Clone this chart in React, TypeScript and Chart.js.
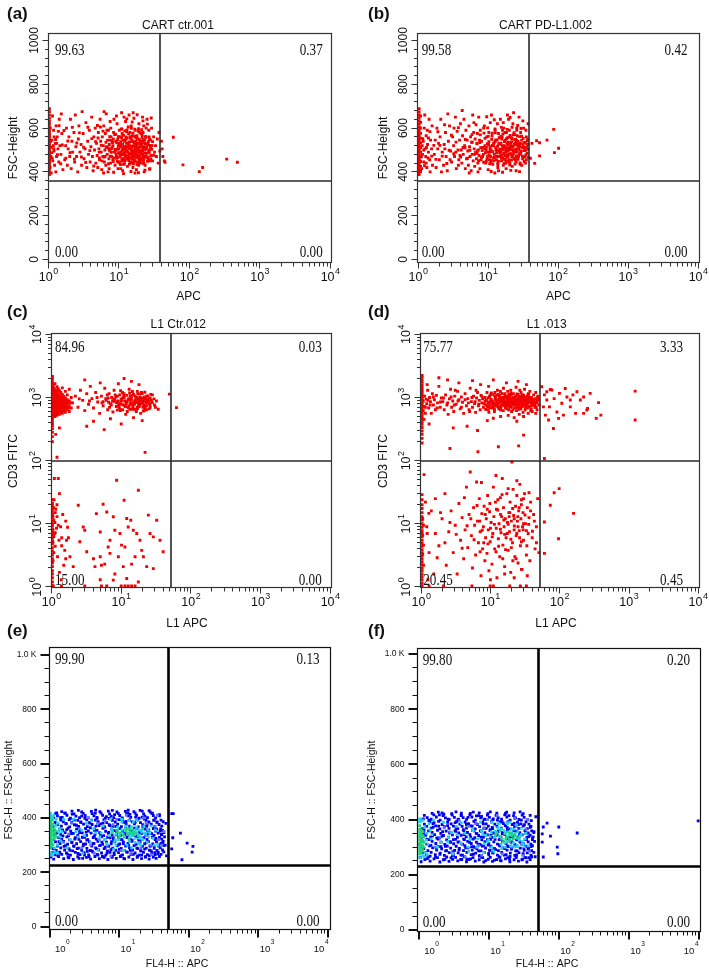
import React, { useEffect, useRef } from "react";
import { Chart, registerables } from "chart.js";
Chart.register(...registerables);

type Pt = [number, number];

// ---------- tick values ----------
const logMajorTicks = [1, 10, 100, 1000, 10000];
const logExponents = ["0", "1", "2", "3", "4"];
const logMinorTicks = [2, 3, 4, 5, 6, 7, 8, 9, 20, 30, 40, 50, 60, 70, 80, 90, 200, 300, 400, 500, 600, 700, 800, 900, 2000, 3000, 4000, 5000, 6000, 7000, 8000, 9000];
const fscMajorTicks = [0, 200, 400, 600, 800, 1000];
const fscMajorLabels = ["0", "200", "400", "600", "800", "1000"];
const fscMinorTicks = [40, 80, 120, 160, 240, 280, 320, 360, 440, 480, 520, 560, 640, 680, 720, 760, 840, 880, 920, 960];
const flowMajorLabels = ["0", "200", "400", "600", "800", "1.0 K"];
const flowMinorTicks = [50, 100, 150, 250, 300, 350, 450, 500, 550, 650, 700, 750, 850, 900, 950];

// ---------- quadrant percentages (UL, UR, LL, LR) ----------
const quadA = ["99.63", "0.37", "0.00", "0.00"];
const quadB = ["99.58", "0.42", "0.00", "0.00"];
const quadC = ["84.96", "0.03", "15.00", "0.00"];
const quadD = ["75.77", "3.33", "20.45", "0.45"];
const quadE = ["99.90", "0.13", "0.00", "0.00"];
const quadF = ["99.80", "0.20", "0.00", "0.00"];

// ---------- events (x = APC, y = FSC / CD3) ----------
const aPoints: Pt[] = [
  [1.03,388],[1.03,398],[1.03,410],[1.03,418],[1.03,425],[1.03,433],[1.03,440],[1.03,447],[1.03,455],[1.03,462],[1.03,470],[1.03,476],[1.03,483],[1.03,490],[1.03,497],[1.03,503],[1.03,510],[1.03,516],[1.03,523],[1.03,530],[1.03,537],[1.03,545],[1.03,552],[1.03,560],[1.03,568],[1.03,575],[1.03,585],[1.03,595],[1.03,606],[1.03,618],[1.03,630],[1.03,645],[1.03,660],[1.03,675],[1.03,688],
  [1.05,420],[1.08,470],[1.1,512],[1.12,545],[1.15,450],[1.18,590],[1.2,495],[1.22,430],[1.25,530],[1.28,610],[1.3,470],[1.33,560],[1.36,505],[1.4,445],[1.42,640],[1.45,520],[1.5,480],[1.55,575],[1.6,410],[1.06,600],[1.09,395],[1.14,655],[1.27,400],[1.38,585],[1.52,665],[1.12,488],[1.2,560],[1.3,530],[1.07,540],[1.17,520],
  [1.7,455],[1.75,520],[1.8,600],[1.85,430],[1.9,505],[1.95,560],[2,470],[2.05,640],[2.1,415],[2.15,540],[2.2,490],[2.3,580],[2.35,445],[2.4,660],[2.45,515],[2.5,470],[2.6,400],[2.65,550],[2.7,610],[2.8,490],[2.9,525],[2.95,430],[3,675],[3.1,575],[3.2,460],[3.3,505],[3.4,625],[3.5,420],[3.6,540],[3.7,480],[3.8,590],[3.9,445],[4,515],[4.1,650],[4.2,470],[4.3,405],[4.4,560],[4.5,500],[4.6,600],[4.7,440],
  [4.8,530],[4.9,475],[5,420],[5.1,580],[5.2,505],[5.3,455],[5.4,640],[5.5,540],[5.6,490],[5.7,410],[5.8,560],[5.9,470],[6,520],[6.1,610],[6.2,445],[6.3,500],[6.4,575],[6.5,430],[6.6,665],[6.7,515],[6.8,480],[6.9,545],[7,400],[7.1,590],[7.2,460],[7.3,525],[7.4,495],[7.5,630],[7.6,440],[7.7,560],[7.8,505],[7.9,470],[5.05,555],[5.45,605],[5.75,450],[6.05,395],[6.35,470],[6.75,590],[7.05,510],[7.45,545],[5.25,490],[6.55,535],[7.25,415],[6.15,675],[7.65,600],
  [8,510],[8.2,455],[8.4,580],[8.6,490],[8.8,430],[9,540],[9.2,470],[9.4,620],[9.6,505],[9.8,445],[10,560],[10.2,485],[10.4,525],[10.6,415],[10.8,595],[11,460],[11.2,500],[11.4,545],[11.6,435],[11.8,650],[12,515],[12.3,475],[12.6,560],[12.9,495],[13.2,425],[13.5,605],[13.8,530],[14.1,465],[14.4,580],[14.7,505],[15,445],[15.3,545],[15.6,490],[15.9,670],[16.2,520],[16.5,455],[16.8,595],[17.1,480],[17.4,540],[17.7,410],[18,565],[18.4,500],[18.8,465],[19.2,620],[19.6,530],[20,445],[20.5,575],[21,495],[21.5,540],[22,470],[22.5,610],[23,515],[23.5,430],[24,560],[24.5,485],[25,640],[25.5,525],[26,455],[26.5,590],[27,500],[27.5,415],[28,545],[28.5,475],[29,600],[29.5,520],[30,450],[31,560],[32,490],
  [9.1,500],[9.5,465],[9.9,530],[10.3,445],[10.7,515],[11.1,575],[11.5,480],[11.9,540],[12.2,450],[12.7,505],[13.1,555],[13.6,470],[14,520],[14.5,440],[15.1,495],[15.5,565],[16,475],[16.6,535],[17,450],[17.6,510],[18.2,475],[18.6,550],[19,430],[19.4,495],[20.2,520],[20.8,460],[21.3,570],[21.8,505],[22.4,440],[23.2,545],[13.3,490],[11.7,460],[10.1,590],[15.8,420],[17.9,530],[12.4,630],[14.9,610],[16.3,645],[19.8,580],[9.7,415],[8.5,640],[10.9,670],[13.9,660],[21.6,650],[24.3,600],[26.8,560],[11.3,405],[16.9,395],[22.8,400],[27.8,450],
  [33,520],[34,470],[35,550],[36,440],[37,580],[38,495],
  [40,540],[41,505],[42,470],[44,450],[45,444],[59,558],[81,432],[138,401],[154,420],[338,458],[479,444]
];
const aCore: Pt[] = [
  [6.2,468],[6.6,512],[7.1,437],[7.4,561],[7.8,489],[8.1,534],[8.3,447],[8.7,571],[8.9,502],[9.3,462],[9.6,548],[9.9,487],[10.3,521],[10.5,433],[10.9,556],[11.2,478],[11.5,509],[11.8,452],[12.1,587],[12.4,492],[12.8,531],[13,458],[13.4,513],[13.7,574],[14,482],[14.3,441],[14.6,553],[15,517],[15.3,471],[15.7,538],[16,497],[16.3,444],[16.7,563],[17,508],[17.3,466],[17.7,527],[18,489],[18.4,551],[18.7,438],[19.1,511],[19.5,474],[19.9,536],[20.3,493],[20.7,456],[21.1,529],[21.6,483],[22.1,547],[22.6,462],[23.1,503],[23.7,529],[24.2,471],[24.8,512],[25.4,448],[26.1,538],[26.8,487],[27.5,521],[28.3,459],[29.1,503],[30,538],[31,476],
  [1.13,462],[1.19,505],[1.26,548],[1.34,478],[1.41,611],[1.49,437],[1.57,523],[1.66,589],[1.76,462],[1.88,541],[2.02,487],[2.18,603],[2.33,458],[2.52,532],[2.74,578],[2.93,468],[3.15,512],[3.38,443],[3.62,604],[3.86,497],[4.12,552],[4.38,427],[4.66,538],[4.95,612],[5.27,463],[5.6,521],[5.93,586],
  [9.2,655],[12.9,642],[15.4,628],[18.1,661],[21.9,633],[25.3,618],[28.7,646],[8.4,398],[11.6,392],[14.8,402],[18.9,396],[23.4,408],[27.2,412],[10.4,478],[13.9,537],[17.4,492],[20.9,514],[24.1,558],[19.2,453],[15.9,466],[12.5,549],[9.8,517],
  [7.2,503],[7.5,472],[7.9,541],[8.2,519],[8.5,463],[8.8,496],[9,572],[9.3,533],[9.5,448],[9.8,561],[10,504],[10.3,469],[10.6,538],[10.8,491],[11.1,451],[11.3,525],[11.6,567],[11.9,488],[12.1,543],[12.4,466],[12.7,516],[12.9,583],[13.2,474],[13.5,529],[13.8,452],[14.1,506],[14.4,561],[14.7,483],[15,538],[15.2,459],[15.5,512],[15.8,577],[16.1,486],[16.4,532],[16.8,449],[17.1,498],[17.4,556],[17.8,471],[18.1,522],[18.5,443],[18.8,585],[19.2,503],[19.6,547],[20,466],[20.4,529],[20.8,481],[21.3,558],[21.8,497],[22.3,452],[22.8,533],[23.3,486],[23.9,561],[24.5,503],[25.1,465],[25.8,529],[26.5,491],[27.2,548],[28,512],
  [10.1,441],[12,437],[14,434],[16,437],[18,433],[20.2,440],[22.5,437],[11,596],[13,592],[15,599],[17,590],[19,597],[21,593],[9.1,482],[11.7,503],[13.4,491],[15.4,472],[17.5,516],[19.5,487],[21.5,514],[23.5,472],[8.3,550],[10.9,561],[14.9,556],[18.3,468],[22,580],[26,468]
];

const bPoints: Pt[] = [
  [1.03,388],[1.03,398],[1.03,409],[1.03,420],[1.03,430],[1.03,441],[1.03,452],[1.03,462],[1.03,473],[1.03,484],[1.03,494],[1.03,505],[1.03,516],[1.03,526],[1.03,537],[1.03,548],[1.03,558],[1.03,569],[1.03,580],[1.03,592],[1.03,605],[1.03,618],[1.03,632],[1.03,646],[1.03,660],[1.03,674],[1.03,688],
  [1.08,402],[1.08,425],[1.08,447],[1.08,468],[1.08,490],[1.08,511],[1.08,533],[1.08,554],[1.08,576],[1.08,600],[1.08,626],[1.08,655],
  [1.12,415],[1.15,480],[1.18,540],[1.2,445],[1.22,600],[1.25,505],[1.28,470],[1.3,565],[1.33,420],[1.36,525],[1.4,490],[1.43,640],[1.46,455],[1.5,545],[1.55,505],[1.6,430],[1.14,520],[1.24,660],[1.35,590],[1.48,400],[1.58,610],[1.2,500],[1.3,440],[1.4,555],
  [1.7,480],[1.75,545],[1.8,420],[1.85,600],[1.9,505],[2,455],[2.05,560],[2.1,640],[2.2,490],[2.3,430],[2.35,525],[2.45,580],[2.5,470],[2.6,405],[2.7,540],[2.8,610],[2.9,495],[3,445],[3.1,560],[3.2,520],[3.3,470],[3.4,650],[3.5,415],[3.6,585],[3.7,500],[3.8,455],[3.9,545],[4,620],[2.15,400],[2.65,665],[3.25,600],[3.75,430],[1.95,530],[2.4,505],[2.85,455],[3.45,490],[3.95,475],
  [4.1,500],[4.2,440],[4.3,565],[4.4,480],[4.5,640],[4.6,520],[4.7,415],[4.8,590],[4.9,460],[5,545],[5.1,495],[5.2,430],[5.3,610],[5.4,515],[5.5,470],[5.6,560],[5.7,405],[5.8,535],[5.9,480],[6,660],[6.1,450],[6.2,580],[6.3,505],[6.4,425],[6.5,550],[6.6,490],[6.7,615],[6.8,460],[6.9,530],[7,575],[7.1,440],[7.2,500],[7.3,650],[7.4,475],[7.5,545],[7.6,415],[7.7,590],[7.8,510],[7.9,455],[4.25,680],[5.35,395],[6.25,625],[7.15,400],[4.65,510],[5.85,570],[6.95,485],
  [8,540],[8.3,470],[8.6,600],[8.9,505],[9.2,440],[9.5,560],[9.8,490],[10.1,525],[10.4,455],[10.7,625],[11,500],[11.3,565],[11.6,435],[11.9,530],[12.2,480],[12.5,590],[12.8,510],[13.1,455],[13.4,545],[13.7,420],[14,575],[14.3,495],[14.6,470],[14.9,640],[15.2,525],[15.5,450],[15.8,560],[16.1,500],[16.4,430],[16.7,600],[17,520],[17.3,475],[17.6,545],[17.9,440],[18.2,580],[18.5,505],[18.8,660],[19.1,470],[19.4,535],[19.7,455],[20,590],[20.5,515],[21,480],[21.5,555],[22,425],[22.5,620],[23,500],[23.5,460],[24,570],[24.5,530],[25,445],[25.5,600],[26,490],[26.5,540],[27,470],[27.5,650],[28,515],[28.5,435],[29,580],[29.5,495],[30,545],[31,460],[32,600],[33,510],[34,440],[35,560],[36,485],[37,620],[36.5,525],[33.5,470],
  [8.5,480],[9,520],[9.6,460],[10.2,580],[10.8,470],[11.4,520],[12,450],[12.6,540],[13.2,500],[13.8,470],[14.4,530],[15,490],[15.6,550],[16.2,465],[16.8,510],[17.4,580],[18,450],[18.6,530],[19.2,495],[19.8,560],[20.4,440],[21.2,520],[22,550],[22.8,480],[23.6,525],[24.4,455],[25.2,505],[26,565],[27,520],[28,480],[8.8,610],[11.1,660],[13.5,620],[16,590],[19.5,640],[23,670],[10,410],[14,405],[18,415],[25,405],[12.4,395],[30,430],[31.5,520],[34.5,590],[9.3,500],[21.7,470],
  [40,462],[42,530],[46,439],[49,542],[54,533],[54,473],[69,545],[86,594],[88,488],[101,508]
];
const bCore: Pt[] = [
  [6.4,480],[6.9,528],[7.3,451],[7.7,569],[8.2,497],[8.6,444],[9,553],[9.4,512],[9.8,471],[10.2,538],[10.6,493],[11,452],[11.4,577],[11.9,519],[12.3,468],[12.8,546],[13.2,487],[13.7,441],[14.1,529],[14.6,503],[15.1,562],[15.6,476],[16.1,518],[16.6,457],[17.2,541],[17.7,498],[18.3,466],[18.9,556],[19.5,509],[20.1,482],[20.8,531],[21.5,454],[22.2,517],[22.9,569],[23.7,491],[24.5,462],[25.3,543],[26.2,505],[27.1,474],[28,526],[29,491],[30,563],[31,512],[32,468],[33,534],[34,498],[35,455],[36,541],[37,503],[37.5,466],
  [1.11,470],[1.16,552],[1.23,428],[1.31,511],[1.38,463],[1.47,584],[1.56,472],[1.67,521],[1.79,457],[1.91,583],[2.04,521],[2.2,472],[2.38,615],[2.56,438],[2.76,499],[2.98,567],[3.22,483],[3.47,536],[3.74,602],[4.04,468],[4.36,511],[4.7,548],[5.07,462],[5.47,499],[5.9,535],
  [9.5,652],[12.2,638],[16.4,625],[20.5,648],[26.3,612],[31.2,633],[11,402],[16,398],[21,407],[28,401],[13.3,488],[17.9,513],[22.6,494],[25.8,527],[10.6,506],[14.9,474],[19.2,528],[24,545],
  [7.1,498],[7.6,534],[8,466],[8.4,511],[8.7,577],[9.1,487],[9.4,449],[9.7,529],[10,562],[10.3,478],[10.6,515],[10.9,444],[11.2,549],[11.6,492],[11.9,463],[12.2,533],[12.6,578],[12.9,502],[13.3,471],[13.6,517],[14,449],[14.3,556],[14.7,488],[15.1,531],[15.4,462],[15.8,506],[16.2,573],[16.6,484],[17,538],[17.4,457],[17.8,512],[18.2,552],[18.7,477],[19.1,525],[19.6,446],[20.1,501],[20.6,566],[21.1,483],[21.6,537],[22.2,469],[22.7,514],[23.3,579],[23.9,492],[24.5,548],[25.2,473],[25.9,521],[26.6,457],[27.4,503],[28.2,561],[29,485],[29.8,529],[30.7,472],[31.6,553],[32.5,497],[33.5,531],[34.5,478],[35.5,512],[36.5,548],
  [9.8,601],[12.5,596],[15.4,603],[18.6,594],[21.9,604],[25.6,590],[29.4,598],[10.5,437],[13.7,433],[16.9,438],[20.3,431],[24.1,436],[28.5,441],[32.6,447],[11.5,521],[14.6,498],[17.9,489],[21.4,503],[24.8,498],[27.8,531],[31.1,512]
];

const cPoints: Pt[] = [
  [1.03,200],[1.03,240],[1.03,280],[1.03,320],[1.03,360],[1.03,400],[1.03,440],[1.03,480],[1.03,520],[1.03,560],[1.03,600],[1.03,640],[1.03,680],[1.03,720],[1.03,760],[1.03,800],[1.03,850],[1.03,900],[1.03,950],[1.03,1000],[1.03,1060],[1.03,1120],[1.03,1190],[1.03,1260],[1.03,1340],[1.03,1420],[1.03,1520],[1.03,1640],[1.03,1780],[1.03,1950],[1.03,2150],
  [1.06,530],[1.06,660],[1.06,790],[1.06,930],[1.06,1090],[1.06,1280],[1.06,1500],[1.09,590],[1.09,720],[1.09,850],[1.09,1000],[1.09,1180],[1.09,1390],[1.12,500],[1.12,620],[1.12,750],[1.12,880],[1.12,1030],[1.12,1220],[1.12,1650],[1.16,560],[1.16,690],[1.16,820],[1.16,960],[1.16,1120],[1.16,1320],[1.2,520],[1.2,640],[1.2,760],[1.2,900],[1.2,1050],[1.2,1240],[1.2,1480],[1.25,580],[1.25,710],[1.25,840],[1.25,980],[1.25,1150],[1.25,1380],[1.3,540],[1.3,660],[1.3,790],[1.3,920],[1.3,1080],[1.3,1280],[1.36,600],[1.36,730],[1.36,860],[1.36,1010],[1.36,1200],[1.43,560],[1.43,680],[1.43,810],[1.43,950],[1.43,1120],[1.43,1420],[1.5,620],[1.5,750],[1.5,880],[1.5,1040],[1.58,580],[1.58,700],[1.58,830],[1.58,980],[1.58,1250],[1.68,640],[1.68,780],[1.68,920],[1.68,1100],[1.8,600],[1.8,740],[1.8,880],[1.8,1350],[1.92,680],[1.92,820],[1.92,1000],
  [2,820],[2.2,1050],[2.4,700],[2.6,1300],[2.8,900],[3,620],[3.2,1150],[3.4,780],[3.6,1500],[3.8,960],[4,680],[4.3,1200],[4.6,850],[4.9,560],[5.2,1050],[5.5,740],[5.8,1400],[6.1,900],[6.4,640],[6.7,1150],[7,800],[7.3,1000],[7.6,590],[7.9,1300],[8.2,870],[8.5,720],[8.8,1050],[9.1,1650],[9.4,800],[9.7,620],[10,950],[10.4,1200],[10.8,760],[11.2,880],[11.6,540],[12,1080],[12.5,700],[13,1350],[13.5,820],[14,980],[14.5,650],[15,1120],[15.5,780],[16,900],[16.5,600],[17,1250],[17.5,840],[18,720],[18.5,1000],[19,560],[19.5,880],[20,1150],[21,760],[22,940],[23,640],[24,1050],[25,800],[26,700],[27,900],[28,1100],[30,760],[32,880],[34,650],
  [8,950],[9,880],[10,780],[11,1000],[12,860],[13,740],[14,900],[15,820],[16,1020],[17,700],[18,920],[19,800],[20,980],[21,880],[22,720],[23,860],[24,940],[9.5,1100],[11.5,720],[13.5,1050],[15.5,660],[17.5,960],[19.5,1200],[21.5,620],[10.5,640],[12.5,920],[14.5,1240],[16.5,840],[18.5,760],[20.5,700],[22.5,1020],[7.5,880],[6.5,980],[5.5,860],[4.5,1000],[3.5,880],[2.5,950],
  [3,1900],[5,1700],[11,2000],[14,1800],[18,1600],[4,420],[7,460],[15,480],[20,430],[10,380],[3.2,350],[5.7,310],[22,135],[1.2,113],[1.15,260],[1.3,330],[49,1130],[62,690],
  [1.03,1.05],[1.03,1.2],[1.03,1.4],[1.03,1.6],[1.03,1.8],[1.03,2.1],[1.03,2.4],[1.03,2.8],[1.03,3.2],[1.03,3.7],[1.03,4.2],[1.03,4.8],[1.03,5.4],[1.03,6],[1.03,6.7],[1.03,7.5],[1.03,8.3],[1.03,9.2],[1.03,10],[1.03,11],[1.03,12.5],[1.03,14],[1.03,15.5],[1.03,17],[1.03,19],[1.03,21],[1.03,24],
  [1.1,52],[1.25,52],[1.3,30],[1.15,17],[1.2,13],[1.35,9],[1.1,7],[1.4,4.5],[1.22,3],[1.5,2.2],[1.3,1.7],[1.6,11],[1.75,6],[1.12,10.5],[1.18,8.5],[1.28,5.5],[1.45,14],[1.09,24],[1.55,3.8],[1.38,1.3],[1.2,20],[1.7,8.8],
  [2.42,19.7],[3,7.9],[4.4,14.5],[5,7.4],[5.5,20.4],[6.2,15.4],[6.9,5.5],[4,2.8],[5,3],[5.2,2.2],[6.5,4.3],[8.6,49],[8.1,7.9],[9.6,7],[11,23.6],[12,12.1],[12.6,8.9],[11.3,4.3],[13.7,11.4],[14.9,7.9],[16.7,7],[17.6,34],[18.6,5.5],[19.7,3.8],[20.8,3],[24.5,13.7],[25.9,7],[28.9,6.2],[32.3,11.4],[36,5.5],[40,3.6],[23.2,2.1],[28.9,1.95],[15.8,3],[14.1,2.3],[10.7,2.1],[8.1,1.6],[6.9,3.4],[5.8,2.3],[4.2,2.1],[3.2,3.6],[2.55,5.2],[1.64,5.5],[1.84,3],[2.05,2.1],[5,1.3],[7.7,1.28],[12,1.36],[17.6,1.2],[9.1,3],[10.1,4.6],[7.7,12.9],[2.85,8.9],
  [1.06,1.04],[1.39,1.04],[3,1.04],[5.2,1.04],[6.2,1.04],[10,1.04],[11.3,1.04],[12.6,1.04],[14.1,1.04],[15.8,1.04]
];
const cCore: Pt[] = [
  [5.3,820],[6,960],[6.8,700],[7.7,880],[8.4,1020],[9.2,760],[10.1,900],[10.9,1110],[11.8,800],[12.7,690],[13.6,920],[14.6,770],[15.7,1060],[16.7,850],[17.9,720],[19.1,950],[20.3,830],[21.6,1010],[23,740],[24.5,870],[26,980],[27.8,830],[29.5,950],[31,700],[6.3,1100],[9.8,1280],[13.2,1180],[17.3,1150],[21.8,1210],[26.5,1120],[8.8,630],[12.2,600],[16.1,640],[20.7,610],[25.3,660],
  [1.05,580],[1.05,720],[1.05,860],[1.05,1010],[1.05,1180],[1.05,1380],[1.08,650],[1.08,780],[1.08,920],[1.08,1100],[1.14,560],[1.14,690],[1.14,830],[1.14,990],[1.14,1160],[1.18,620],[1.18,750],[1.18,890],[1.18,1050],[1.22,580],[1.22,700],[1.22,830],[1.22,970],[1.22,1140],[1.28,610],[1.28,740],[1.28,880],[1.28,1040],[1.33,670],[1.33,800],[1.33,950],[1.4,620],[1.4,740],[1.4,870],[1.4,1020],[1.47,690],[1.47,820],[1.47,970],[1.55,650],[1.55,780],[1.55,910],[1.65,710],[1.65,850],[1.75,680],[1.75,820],
  [1.05,2.6],[1.05,5.1],[1.05,8],[1.05,13.2],[1.08,3.5],[1.08,6.3],[1.08,11.5],[1.08,18],[1.13,4.4],[1.13,7.2],[1.13,15],[1.25,9.5],[1.4,6],[1.6,2.8],
  [6.6,840],[7.2,760],[7.9,930],[8.6,820],[9.3,700],[9.9,870],[10.6,990],[11.3,740],[12.1,850],[12.9,960],[13.8,790],[14.7,700],[15.6,880],[16.6,1000],[17.7,780],[18.8,870],[20,940],[21.3,720],[22.7,820],[24.2,910],[25.8,760],[27.4,850],[8.2,1100],[11,1150],[14.2,1080],[18.3,1130],[23.5,1060],[9.6,660],[13.3,650],[17.1,670],[21.9,660],
  [1.04,560],[1.04,690],[1.04,830],[1.04,980],[1.04,1150],[1.04,1340],[1.07,610],[1.07,740],[1.07,880],[1.07,1040],[1.07,1230],[1.11,540],[1.11,670],[1.11,800],[1.11,940],[1.11,1100],[1.11,1300],[1.15,600],[1.15,720],[1.15,860],[1.15,1010],[1.19,560],[1.19,680],[1.19,800],[1.19,950],[1.19,1120],[1.24,630],[1.24,760],[1.24,900],[1.24,1060],[1.29,580],[1.29,700],[1.29,840],[1.29,990],[1.35,650],[1.35,780],[1.35,930],[1.42,600],[1.42,720],[1.42,850],[1.42,1000],[1.5,680],[1.5,800],[1.5,940]
];

const dPoints: Pt[] = [
  [1.03,190],[1.03,225],[1.03,260],[1.03,295],[1.03,335],[1.03,375],[1.03,415],[1.03,455],[1.03,495],[1.03,540],[1.03,585],[1.03,630],[1.03,680],[1.03,730],[1.03,785],[1.03,840],[1.03,900],[1.03,960],[1.03,1030],[1.03,1100],[1.03,1180],[1.03,1270],[1.03,1370],[1.03,1480],[1.03,1600],[1.03,1750],[1.03,1920],[1.03,2100],[1.03,2240],
  [1.07,620],[1.07,880],[1.1,720],[1.12,1050],[1.15,560],[1.18,940],[1.2,800],[1.24,1300],[1.28,680],[1.32,1000],[1.36,860],[1.4,560],[1.45,1150],[1.5,760],[1.55,920],[1.6,640],[1.66,1080],[1.72,820],[1.8,1500],[1.88,700],[1.95,980],[1.1,450],[1.3,380],[1.22,1600],[1.8,2050],
  [2.05,860],[2.15,640],[2.25,1100],[2.35,760],[2.45,540],[2.55,950],[2.65,1350],[2.75,700],[2.85,880],[2.95,600],[3.05,1050],[3.2,780],[3.35,1250],[3.5,920],[3.65,660],[3.8,1020],[3.95,840],[4.1,560],[4.3,1150],[4.5,740],[4.7,960],[4.9,640],[5.1,1400],[5.3,860],[5.5,700],[5.7,1050],[5.9,800],[6.1,580],[6.3,980],[6.5,1200],[6.7,740],[6.9,900],[7.1,640],[7.3,1080],[7.5,820],[7.7,950],[7.9,700],[2.9,330],[4.6,350],[6.5,300],[3.5,1700],[5.5,1850],[2.4,1900],[7.2,1600],[2.6,156],[6.6,138],[13,166],[25.5,171],[30,253],
  [8.1,800],[8.3,1000],[8.5,650],[8.7,900],[8.9,1200],[9.1,720],[9.3,850],[9.5,580],[9.7,1050],[9.9,760],[10.2,940],[10.5,680],[10.8,1120],[11.1,820],[11.4,600],[11.7,980],[12,730],[12.3,880],[12.6,1300],[12.9,780],[13.2,660],[13.5,1020],[13.8,850],[14.1,720],[14.4,940],[14.7,1150],[15,800],[15.3,620],[15.6,900],[15.9,760],[16.2,1050],[16.5,690],[16.8,860],[17.1,980],[17.4,740],[17.7,1250],[18,820],[18.3,640],[18.6,920],[18.9,780],[19.2,1080],[19.5,700],[19.8,880],[20.2,600],[20.6,960],[21,760],[21.4,1150],[21.8,840],[22.2,680],[22.6,1000],[23,790],[23.4,900],[23.8,620],[24.2,1100],[24.6,820],[25,720],[25.5,950],[26,780],[26.5,1300],[27,860],[27.5,660],[28,1000],[28.5,760],[29,900],[29.5,580],[30,1080],[31,820],[32,700],[33,960],[34,800],[35,1150],[36,720],[37,880],[38,620],[39,1000],[40,780],[42,920],[44,700],[46,850],[48,1050],[50,760],
  [10,860],[11,760],[12,940],[13,820],[14,700],[15,1000],[16,860],[17,780],[18,960],[19,840],[20,720],[21,920],[22,800],[23,1040],[24,880],[25,760],[26,920],[27,700],[28,840],[29,1000],[30,740],[32,900],[34,680],[36,980],[38,840],[10.6,800],[12.4,1080],[14.2,880],[16,740],[18.4,1120],[20.4,840],[22.4,920],[24.4,700],[26.4,840],[28.4,940],[31,1000],[33,860],[35,940],[13.6,960],[17.6,900],[21.6,1000],[25.6,1040],[30,900],[11.6,1200],[19.6,1300],[27.6,1200],[15.4,1400],[23.4,1450],[9.4,1500],[31,1350],[37,1250],[42,1100],[45,1200],[14,500],[18,520],[22,480],[26,540],[30,500],[35,560],[40,600],[47,640],[11,470],[9,430],[24,420],[17,1700],[11,1900],[25,1800],[33,1600],[45,560],[49,900],
  [55,1480],[60,1100],[65,910],[71,710],[77,1310],[83,960],[91,590],[99,1160],[107,810],[120,1390],[127,1020],[142,910],[155,1100],[177,1230],[198,910],[221,1020],[252,670],[275,1160],[363,830],[392,525],[246,630],[113,525],[81,323],[336,467],[1225,1260],[1225,440],[73,1340],[62,525],[69,440],[96,467],[58,710],[65,1230],[142,710],[169,560],[221,560],[60,108],
  [1.03,1.05],[1.03,1.15],[1.03,1.3],[1.03,1.45],[1.03,1.6],[1.03,1.8],[1.03,2],[1.03,2.25],[1.03,2.5],[1.03,2.8],[1.03,3.1],[1.03,3.5],[1.03,3.9],[1.03,4.4],[1.03,4.9],[1.03,5.5],[1.03,6.2],[1.03,7],[1.03,7.8],[1.03,8.8],[1.03,10],[1.03,11.5],[1.03,13],[1.03,15],[1.03,17.5],[1.03,20],[1.03,24],[1.03,29],
  [1.1,60],[1.15,22],[1.2,9],[1.3,3.5],[1.29,14.6],[1.22,7],[1.52,1.6],[1.6,7],[1.4,16],[1.25,1.3],
  [1.6,25],[1.8,4.5],[2,12],[2.2,30],[2.3,2.2],[2.5,7.5],[2.7,16],[2.9,3.5],[3.1,9.5],[3.3,1.6],[3.5,21],[3.7,5.5],[3.9,12.5],[4.1,2.8],[4.3,8],[4.5,38],[4.7,4.2],[4.9,14],[5.1,66],[5.3,6.5],[5.5,2],[5.7,18],[5.9,9.5],[6.1,3.2],[6.3,46],[6.5,11],[6.7,5],[6.9,25],[7.1,7.5],[7.3,1.5],[7.5,14.5],[7.7,4],[7.9,9],[8.1,19],[8.3,2.6],[8.5,6],[8.7,12],[8.9,3.4],[9.1,28],[9.3,8],[9.5,1.8],[9.7,15.5],[9.9,5.2],[10.2,10.5],[10.5,2.3],[10.8,7],[11,38],[11.2,13],[11.5,4],[11.8,22],[12.1,8.5],[12.4,1.4],[12.7,16.5],[13,5.8],[13.3,10],[13.6,3],[13.9,26],[14.2,7.2],[14.5,13],[14.8,52],[15.1,4.6],[15.4,18],[15.7,9],[16,2.1],[16.4,12],[16.8,6],[17.2,30],[17.6,10.5],[18,3.8],[18.4,15],[18.8,7.5],[19.2,22],[19.6,1.7],[20,11],[20.4,95],[20.8,5],[21.2,35],[21.6,13.5],[22,8],[22.5,3],[23,19],[23.5,6.5],[24,28],[24.5,11],[25,2.4],[25.5,16],[26,7.8],[26.5,42],[27,4.5],[27.5,12],[28,24],[28.5,1.9],[29,9],[29.5,15],[30,5.5],[31,30],[32,10],[33,3.2],[34,18],[35,7],[36,12.5],[37,2.6],[38,22],[40,6],[42,14],[44,4],[46,9],[48,25],[50,3.5],
  [1.3,1.04],[2.1,1.04],[5.4,1.04],[9.9,1.04],[11,1.04],[27,1.04],[33,1.04],[19,1.04],
  [73,19.7],[83,31],[98,36],[158,14.6],[96,5.8],[60,10.7],[60,3.4]
];
const dCore: Pt[] = [
  [8.6,760],[9.2,980],[9.9,690],[10.7,870],[11.5,1060],[12.3,790],[13.2,930],[14.1,670],[15.1,860],[16.2,1010],[17.3,750],[18.5,890],[19.8,1170],[21.2,780],[22.7,950],[24.3,690],[26,860],[27.8,1040],[29.7,760],[31.8,920],[34,820],[36.4,1000],[38.9,740],[41.6,880],[44.5,960],[47,820],[9.5,830],[11.9,900],[14.6,960],[17.8,830],[21.8,870],[26.7,790],[32.6,860],[39.9,820],[12.8,710],[16.6,690],[20.9,940],[25.1,1120],[29.2,850],[35.2,700],[43,760],[10.3,1180],[13.9,1240],[18.9,1010],[23.8,830],[28.6,910],[33.7,1060],[15.4,780],[19.4,760],[24.7,920],[30.6,980],[37.8,900],[45.8,700],[48.5,980],
  [1.15,700],[1.25,900],[1.35,760],[1.5,1020],[1.7,680],[1.9,850],[2.1,980],[2.4,820],[2.7,1020],[3,760],[3.4,880],[3.8,700],[4.3,920],[4.8,820],[5.4,1000],[6,860],[6.8,780],[7.5,1040],[3.1,1300],[5,600],[6.2,1300],
  [8,5],[10,8.5],[12,3.6],[14,14],[16,6.8],[18,9.8],[20,4.2],[22,12],[24,7],[26,18],[28,5.2],[30,10],[33,7.8],[12.8,24],[19,15],[25,9],[7,11],[9,17],[15,2.8],[21,2.6],[1.05,3.3],[1.05,6.6],[1.05,12],[1.08,2.2],[1.08,9.5],[1.08,4.6],
  [3.2,6.8],[3.9,4.1],[4.6,9.3],[5.2,12],[5.8,5.6],[6.4,19.5],[7.1,3.6],[7.6,7.9],[8.4,14],[9.2,4.8],[9.8,21],[10.6,6.2],[11.4,9.8],[12.2,17],[13.1,4.4],[13.9,8.2],[14.7,29],[15.6,11.5],[16.5,3.9],[17.5,7],[18.6,13],[19.7,5.7],[20.9,17.5],[22.1,9.2],[23.4,2.8],[24.8,13],[26.3,6],[27.9,20],[29.6,8],[31.5,13.8],[33.5,4.5],[35.6,9.8],[37.9,16],[40.3,7.6],[43,11],[46,5],[2.6,10.5],[2.2,5],[1.9,15],[1.7,2.9],[4.2,26],[7.4,45],[12,58],[18,36],[24,48],[30,25],[36,31],[10,1.3],[16,1.6],[22,1.4],[28,1.9],[34,1.5],
  [8.4,870],[9,760],[9.6,1010],[10.3,890],[11,700],[11.8,960],[12.6,830],[13.5,1090],[14.4,760],[15.4,920],[16.5,820],[17.6,1050],[18.8,720],[20.1,880],[21.5,990],[23,760],[24.6,900],[26.3,820],[28.1,1060],[30,780],[32.1,930],[34.3,850],[36.7,1010],[39.2,760],[41.9,900],[44.8,830],[47.9,960],
  [9.3,640],[11.4,650],[14,630],[17.2,660],[21.1,640],[25.8,650],[31.6,640],[38.7,660],[10,1100],[12.9,1120],[16.1,1150],[19.9,1090],[24.1,1140],[29.1,1110],[35.5,1120],
  [12,800],[15,860],[18,790],[21,830],[24,800],[27,900],[30,860],[33,760],[36,830],[40,940],[44,760],[13.5,930],[16.5,980],[19.5,930],[22.5,880],[25.5,980],[28.5,720],[31.5,880],[34.5,950],[37.5,870],[42.5,830],[46.5,900]
];

const eBlue: Pt[] = [
  [1.15,248],[1.6,250],[2.2,247],[3,251],[3.9,248],[5.2,250],[6.9,247],[9.1,251],[12,249],[15.8,247],[21,250],[27,248],[34,251],
  [1.05,256],[1.35,258],[1.85,255],[2.55,257],[3.4,255],[4.5,258],[6,256],[7.9,255],[10.5,258],[13.8,256],[18.2,255],[24,257],[31,256],[38,258],
  [1.2,264],[1.5,266],[2,263],[2.75,265],[3.65,264],[4.85,266],[6.45,263],[8.5,265],[11.2,264],[14.8,266],[19.5,263],[25.5,265],[33,264],[40,266],
  [1.1,272],[1.4,274],[1.75,271],[2.35,273],[3.15,272],[4.2,274],[5.6,271],[7.4,273],[9.8,272],[12.9,274],[17,271],[22.4,273],[29.5,272],[36.5,274],
  [1.25,280],[1.65,282],[2.15,279],[2.9,281],[3.85,280],[5.1,282],[6.8,279],[9,281],[11.9,280],[15.7,282],[20.7,279],[27.3,281],[35,280],[42,282],
  [1.12,288],[1.45,290],[1.9,287],[2.6,289],[3.45,288],[4.6,290],[6.1,287],[8.1,289],[10.7,288],[14.1,290],[18.6,287],[24.5,289],[32,288],[39,290],
  [1.3,296],[1.7,298],[2.25,295],[3.05,297],[4.05,296],[5.35,298],[7.1,295],[9.4,297],[12.4,296],[16.4,298],[21.6,295],[28.5,297],[37,296],[44,298],
  [1.08,304],[1.42,306],[1.82,303],[2.45,305],[3.3,304],[4.35,306],[5.8,303],[7.7,305],[10.2,304],[13.4,306],[17.7,303],[23.3,305],[30.5,304],[40,306],
  [1.22,312],[1.6,314],[2.1,311],[2.8,313],[3.75,312],[4.95,314],[6.6,311],[8.7,313],[11.5,312],[15.2,314],[20,311],[26.4,313],[34.5,312],[43,314],
  [1.15,320],[1.5,322],[1.95,319],[2.65,321],[3.55,320],[4.7,322],[6.25,319],[8.3,321],[11,320],[14.5,322],[19.1,319],[25.2,321],[33,320],[41,322],
  [1.35,328],[1.78,330],[2.35,327],[3.2,329],[4.25,328],[5.6,330],[7.45,327],[9.85,329],[13,328],[17.2,330],[22.7,327],[30,329],[38,328],[45,330],
  [1.1,336],[1.45,338],[1.88,335],[2.55,337],[3.4,336],[4.5,338],[6,335],[7.95,337],[10.5,336],[13.9,338],[18.3,335],[24.2,337],[31.8,336],[41,338],
  [1.28,344],[1.68,346],[2.2,343],[2.95,345],[3.95,344],[5.25,346],[7,343],[9.25,345],[12.2,344],[16.1,346],[21.3,343],[28,345],[36.5,344],[44,346],
  [1.18,352],[1.55,354],[2.02,351],[2.72,353],[3.62,352],[4.8,354],[6.4,351],[8.45,353],[11.2,352],[14.7,354],[19.4,351],[25.7,353],[33.5,352],[42,354],
  [1.4,360],[1.85,362],[2.45,359],[3.3,361],[4.4,360],[5.85,362],[7.75,359],[10.3,361],[13.6,360],[17.9,362],[23.6,359],[31,361],[39.5,360],
  [1.12,368],[1.48,370],[1.95,367],[2.62,369],[3.5,368],[4.65,370],[6.15,367],[8.15,369],[10.8,368],[14.2,370],[18.8,367],[24.8,369],[32.5,368],[41,370],
  [1.32,376],[1.72,378],[2.28,375],[3.08,377],[4.1,376],[5.45,378],[7.2,375],[9.55,377],[12.6,376],[16.6,378],[21.9,375],[29,377],[37.5,376],
  [1.2,384],[1.58,386],[2.08,383],[2.82,385],[3.78,384],[5,386],[6.65,383],[8.8,385],[11.7,384],[15.4,386],[20.3,383],[26.8,385],[35,384],[43,386],
  [1.45,392],[1.92,394],[2.55,391],[3.42,393],[4.55,392],[6.05,394],[8,391],[10.6,393],[14,392],[18.5,394],[24.4,391],[32,393],[40,392],
  [1.15,400],[1.52,402],[2,399],[2.7,401],[3.6,400],[4.8,402],[6.35,399],[8.4,401],[11.1,400],[14.7,402],[19.4,399],[25.6,401],[33.5,400],
  [1.3,408],[1.78,410],[2.4,407],[3.25,409],[4.35,408],[5.8,410],[7.7,407],[10.2,409],[13.5,408],[17.8,410],[23.5,407],[31,409],[38,408],
  [1.22,416],[1.65,418],[2.25,415],[3.05,417],[4.1,416],[5.5,418],[7.3,415],[9.7,417],[12.8,416],[17,418],[22.5,415],[29.5,417],
  [1.5,423],[2.1,425],[2.9,422],[4,424],[5.3,423],[7,425],[9.3,422],[12.3,424],[16.3,423],[21.5,425],[28,422],
  [2.6,428],[4.6,429],[8,428],[13.5,429],[20,428],[27,427],
  [46,300],[47,380],[48,260],[57,416],[60,416],[76,344],[59,327],[95,307],[115,295],[80,246],[57,286],[112,274]
];
const eBlue2: Pt[] = [
  [1.17,338],[1.31,262],[1.44,401],[1.62,295],[1.77,357],[1.96,281],[2.12,414],[2.31,322],[2.57,269],[2.81,384],[3.07,303],[3.36,348],[3.71,257],[4.02,392],[4.4,331],[4.73,286],[5.14,372],[5.66,311],[6.12,255],[6.58,405],[7.09,347],[7.63,283],[8.31,326],[8.96,369],[9.68,301],[10.4,258],[11.3,389],[12.2,337],[13.1,274],[14.3,413],[15.4,318],[16.7,362],[18,289],[19.6,345],[21.1,263],[22.9,396],[24.7,308],[26.6,356],[28.9,279],[31.4,391],[33.8,325],[36.2,268],[38.9,352],[42.3,309],
  [1.24,381],[1.37,313],[1.53,356],[1.69,418],[1.83,266],[2.05,342],[2.22,297],[2.44,373],[2.66,251],[2.97,329],[3.22,399],[3.5,277],[3.86,364],[4.19,306],[4.55,418],[4.95,263],[5.38,339],[5.88,381],[6.33,292],[6.85,329],[7.38,372],[7.95,258],[8.62,412],[9.3,352],[10.1,284],[10.9,320],[11.7,251],[12.6,387],[13.7,299],[14.8,356],[16,266],[17.3,403],[18.8,332],[20.4,279],[22,367],[23.8,256],[25.7,341],[27.7,296],[30.1,418],[32.6,272],[35,385],[37.4,301],[40.6,339],[43.8,275],
  [1.06,349],[1.15,286],[1.27,419],[1.41,271],[1.56,334],[1.74,379],[1.9,253],[2.09,309],[2.27,392],[2.5,287],[2.72,346],[2.9,407],[3.18,263],[3.44,318],[3.79,381],[4.1,279],[4.47,353],[4.83,399],[5.25,298],[5.75,258],[6.22,366],[6.71,271],[7.2,398],[7.79,313],[8.47,271],[9.12,338],[9.87,394],[10.7,261],[11.5,306],[12.4,362],[13.4,419],[14.5,281],[15.7,341],[17,384],[18.4,259],[20,318],[21.5,403],[23.3,285],[25.2,374],[27.1,261],[29.4,342],[31.9,297],[34.6,359],[37.9,412]
];
const eMid: Pt[] = [
  [1.6,310],[2.1,380],[2.9,290],[3.6,400],[4.4,270],[5.2,320],[6.3,390],[7.6,260],[9.2,395],[10.8,280],[12.7,410],[15,270],[17.6,395],[20.6,290],[24.5,380],[28.5,300],[33,370],[37,320],[1.9,340],[2.7,360],[3.9,300],[4.9,380],[6.8,300],[8.2,375],[19.5,310],[22.5,400],[30,265],[35.5,410],[41,300],[44,350]
];
const eCyan: Pt[] = [
  [1.03,262],[1.03,270],[1.03,410],[1.03,418],[1.08,268],[1.1,405],[1.2,275],[1.25,395],[1.3,300],[1.35,350],[1.4,330],[1.3,380],[1.18,290],[1.22,370],[1.45,315],[1.15,410],
  [7.2,335],[8,350],[8.8,320],[9.5,365],[10.2,340],[11,355],[11.8,330],[12.5,370],[13.3,345],[14,315],[14.8,360],[15.5,335],[16.3,350],[17,325],[17.8,365],[18.6,340],[19.4,355],[20.3,330],[21.2,348],[22,320],[5.5,345],[6.2,320],[4.3,360],[3.2,335],[2.4,350],[24,340],[26,355],[9,300],[13,300],[16,385],[11,385],[19,305],
  [1.5,350],[1.8,290],[2.2,395],[2.6,330],[3,270],[3.4,380],[3.9,310],[4.6,345],[5,280],[5.9,370],[6.6,305],[7.5,395],[8.4,285],[9.8,320],[10.9,395],[11.7,280],[13.8,390],[15.2,290],[16.9,310],[18.2,390],[20.5,300],[22.8,370],[25.5,310],[27.5,345],[30.5,325],[33.5,355],[36,300],[1.25,330],[1.4,360],[1.6,395],[2,320],[2.9,355],[4,390],[5.3,330],[7.8,360],[9,340],[12.3,360],[14.5,335],[17.3,355],[19.8,325],[23.5,345],[28.8,370],[1.12,265],[1.12,395],[1.3,270],[8.5,310],[15,368],[21,355],[26.5,330],[32,300]
];
const eGreen: Pt[] = [
  [1.03,290],[1.03,300],[1.03,310],[1.03,320],[1.03,330],[1.03,340],[1.03,350],[1.03,360],[1.03,370],[1.03,380],[1.03,390],[1.03,400],[1.07,295],[1.07,308],[1.07,322],[1.07,336],[1.07,350],[1.07,364],[1.07,378],[1.07,392],[1.12,302],[1.12,318],[1.12,334],[1.12,348],[1.12,362],[1.12,376],[1.17,325],[1.17,345],[1.17,360],[1.22,335],[1.22,352],
  [10.5,345],[11.5,338],[12.5,352],[13.5,340],[14.5,348],[15.5,344],[16.5,338],[12,330],[14,358],[16,355],[17.5,345],[9.5,350],[10.1,330],[12.9,361],[15.9,340],[18.9,335],[13.9,322],[7.9,345],[21.9,360]
];

const fBlue: Pt[] = [
  [1.08,247],[1.45,249],[2,246],[2.7,248],[3.6,250],[4.8,247],[6.4,249],[8.5,246],[11.3,248],[15,250],[20,247],[26.5,249],[35,246],
  [1.22,255],[1.65,257],[2.25,254],[3.05,256],[4.1,255],[5.5,257],[7.3,254],[9.8,256],[13,255],[17.3,257],[23,254],[30.5,256],[39,255],
  [1.05,263],[1.38,265],[1.85,262],[2.5,264],[3.35,263],[4.45,265],[5.95,262],[7.9,264],[10.5,263],[14,265],[18.6,262],[24.7,264],[33,263],[41,265],
  [1.28,271],[1.72,273],[2.32,270],[3.12,272],[4.2,271],[5.6,273],[7.5,270],[10,272],[13.3,271],[17.7,273],[23.5,270],[31,272],[40,271],
  [1.12,279],[1.5,281],[2.02,278],[2.72,280],[3.65,279],[4.85,281],[6.5,278],[8.65,280],[11.5,279],[15.3,281],[20.3,278],[27,280],[35.5,279],[44,281],
  [1.35,287],[1.8,289],[2.42,286],[3.25,288],[4.35,287],[5.8,289],[7.75,286],[10.3,288],[13.7,287],[18.2,289],[24.2,286],[32,288],[41,287],
  [1.18,295],[1.58,297],[2.12,294],[2.85,296],[3.8,295],[5.05,297],[6.75,294],[9,296],[12,295],[16,297],[21.2,294],[28.2,296],[37,295],
  [1.06,303],[1.42,305],[1.9,302],[2.55,304],[3.42,303],[4.55,305],[6.05,302],[8.05,304],[10.7,303],[14.3,305],[19,302],[25.2,304],[33.5,303],[42,305],
  [1.3,311],[1.75,313],[2.35,310],[3.15,312],[4.22,311],[5.62,313],[7.5,310],[10,312],[13.3,311],[17.7,313],[23.5,310],[31.2,312],[40,311],
  [1.15,319],[1.55,321],[2.08,318],[2.8,320],[3.75,319],[5,321],[6.65,318],[8.85,320],[11.8,319],[15.7,321],[20.9,318],[27.8,320],[36.5,319],[45,321],
  [1.4,327],[1.88,329],[2.5,326],[3.35,328],[4.48,327],[5.98,329],[7.95,326],[10.6,328],[14.1,327],[18.8,329],[25,326],[33,328],[42,327],
  [1.1,335],[1.48,337],[1.98,334],[2.66,336],[3.56,335],[4.75,337],[6.32,334],[8.42,336],[11.2,335],[14.9,337],[19.9,334],[26.4,336],[35,335],[43,337],
  [1.25,343],[1.68,345],[2.25,342],[3.02,344],[4.04,343],[5.38,345],[7.16,342],[9.55,344],[12.7,343],[16.9,345],[22.5,342],[30,344],[39,343],
  [1.16,351],[1.55,353],[2.06,350],[2.78,352],[3.72,351],[4.95,353],[6.6,350],[8.8,352],[11.7,351],[15.6,353],[20.8,350],[27.7,352],[36.5,351],[44,353],
  [1.38,359],[1.85,361],[2.46,358],[3.3,360],[4.4,359],[5.86,361],[7.8,358],[10.4,360],[13.9,359],[18.5,361],[24.6,358],[32.8,360],[41,359],
  [1.12,367],[1.5,369],[2,366],[2.7,368],[3.6,367],[4.8,369],[6.4,366],[8.5,368],[11.3,367],[15.1,369],[20.1,366],[26.8,368],[35.5,367],
  [1.3,375],[1.74,377],[2.32,374],[3.12,376],[4.16,375],[5.55,377],[7.4,374],[9.85,376],[13.1,375],[17.5,377],[23.3,374],[31,376],[40,375],
  [1.2,383],[1.6,385],[2.15,382],[2.9,384],[3.86,383],[5.15,385],[6.85,382],[9.15,384],[12.2,383],[16.2,385],[21.6,382],[28.8,384],[37.5,383],
  [1.44,391],[1.92,393],[2.58,390],[3.45,392],[4.6,391],[6.12,393],[8.15,390],[10.9,392],[14.5,391],[19.3,393],[25.7,390],[34,392],
  [1.1,399],[1.5,401],[2.02,398],[2.72,400],[3.62,399],[4.82,401],[6.42,398],[8.55,400],[11.4,399],[15.2,401],[20.2,398],[27,400],[36,399],
  [1.32,407],[1.78,409],[2.4,406],[3.22,408],[4.3,407],[5.74,409],[7.65,406],[10.2,408],[13.6,407],[18.1,409],[24.1,406],[32,408],
  [1.2,415],[1.64,417],[2.22,414],[3,416],[4.02,415],[5.36,417],[7.15,414],[9.55,416],[12.7,415],[16.9,417],[22.6,414],[30,416],[39,415],
  [1.55,422],[2.15,424],[2.95,421],[4.05,423],[5.45,422],[7.3,424],[9.7,421],[13,423],[17.3,422],[23,424],[31,421],
  [1.9,427],[3.4,428],[6,427],[10.5,428],[18,427],[28,428],
  [60,373],[58,348],[68,387],[76,340],[100,373],[97,276],[60,264],[95,300],[183,351],[9800,395],[58,318],[46,265],[47,410]
];
const fBlue2: Pt[] = [
  [1.12,322],[1.26,281],[1.39,397],[1.57,341],[1.73,263],[1.92,376],[2.07,302],[2.28,419],[2.49,287],[2.76,352],[3.02,269],[3.3,389],[3.63,318],[3.96,255],[4.33,363],[4.68,297],[5.05,408],[5.52,336],[6.03,274],[6.52,385],[7.01,311],[7.58,359],[8.2,262],[8.85,401],[9.58,327],[10.3,289],[11.2,371],[12.1,253],[13.2,345],[14.2,308],[15.5,392],[16.6,271],[18.1,336],[19.4,414],[21,293],[22.7,359],[24.5,263],[26.4,382],[28.6,317],[30.9,276],[33.6,351],[36.3,293],[39.1,372],[41.9,331],
  [1.19,362],[1.33,258],[1.49,306],[1.65,389],[1.81,333],[2,274],[2.19,356],[2.4,303],[2.62,401],[2.88,261],[3.12,327],[3.42,368],[3.75,289],[4.08,414],[4.46,345],[4.87,256],[5.3,317],[5.79,376],[6.27,299],[6.75,349],[7.31,267],[7.87,411],[8.49,305],[9.18,368],[9.93,277],[10.7,343],[11.6,402],[12.5,291],[13.6,357],[14.7,251],[15.9,321],[17.2,378],[18.6,303],[20.1,266],[21.8,337],[23.5,405],[25.5,286],[27.4,347],[29.7,254],[32.3,381],[34.7,327],[37.6,262],[40.5,396],
  [1.04,309],[1.16,402],[1.3,329],[1.45,267],[1.6,372],[1.78,298],[1.97,417],[2.14,339],[2.36,256],[2.58,378],[2.84,317],[3.08,283],[3.37,357],[3.68,401],[4,271],[4.38,329],[4.79,382],[5.2,255],[5.67,301],[6.14,359],[6.66,413],[7.17,286],[7.74,336],[8.36,384],[9.03,251],[9.76,307],[10.5,363],[11.4,279],[12.3,328],[13.3,398],[14.4,263],[15.6,349],[16.9,295],[18.3,371],[19.8,256],[21.4,319],[23.1,386],[25,272],[27.1,337],[29.2,398],[31.7,296],[34.2,261],[37.1,338],[40,302],[44,356]
];
const fMid: Pt[] = [
  [1.7,300],[2.3,370],[3,280],[3.8,395],[4.6,265],[5.5,330],[6.6,385],[7.9,270],[9.6,400],[11.3,290],[13.2,415],[15.6,275],[18.2,390],[21.3,300],[25,375],[29,310],[34,365],[38,285],[2,335],[2.8,355],[4.1,310],[5.1,375],[7.1,305],[8.6,370],[20,320],[23.5,405],[31,270],[36,400]
];
const fCyan: Pt[] = [
  [1.03,262],[1.03,392],[1.03,402],[1.1,395],[1.25,280],[1.3,350],[1.22,372],[1.35,310],[1.4,385],[1.2,265],[1.5,330],
  [6,360],[7,330],[8.2,345],[9.5,320],[10.8,355],[12,335],[13.5,370],[15,310],[16.5,360],[18,320],[19.5,345],[21,365],[22.5,315],[24,340],[26,355],[27.5,325],[29,345],[31,310],[11,300],[17,300],[23,300],[25,380],[14,385],[20,390],[5,300],[3.5,345],[2.6,320],[33,330],
  [1.55,345],[1.85,300],[2.25,390],[2.65,335],[3.05,275],[3.45,375],[3.95,315],[4.55,350],[5.15,285],[5.85,365],[6.7,300],[7.6,390],[8.5,280],[9.9,325],[11,390],[11.8,285],[13.6,385],[15.3,295],[17,315],[18.4,385],[20.6,305],[22.9,365],[25.4,305],[27.8,340],[30.2,320],[33.8,350],[36.5,305],[1.28,325],[1.45,362],[1.62,398],[2.05,318],[2.95,352],[4.05,388],[5.35,328],[7.85,358],[9.1,342],[12.4,358],[14.6,338],[17.4,352],[19.9,328],[23.6,348],[28.9,368],[1.14,268],[1.14,398],[1.32,272],[8.6,312],[15.1,366],[21.1,352],[26.6,332],[32.1,302]
];
const fGreen: Pt[] = [
  [1.03,275],[1.03,285],[1.03,295],[1.03,305],[1.03,315],[1.03,325],[1.03,335],[1.03,345],[1.03,355],[1.03,365],[1.03,378],[1.08,280],[1.08,293],[1.08,307],[1.08,321],[1.08,335],[1.08,349],[1.08,362],[1.13,290],[1.13,305],[1.13,322],[1.13,340],[1.13,356],[1.18,300],[1.18,318],[1.18,336],
  [14,340],[15.5,330],[17,348],[18.5,335],[20,325],[21.5,342],[16,320],[19,355],[22.5,330],[13,352],[12.5,345],[14.5,360],[17.5,330],[20.5,350],[23.5,345],[10.5,338],[25.5,333]
];

// ---------- styling ----------
const SANS = "'Liberation Sans', Arial, Helvetica, sans-serif";
const SERIF = "'Liberation Serif', 'Times New Roman', Times, serif";
const RED = "#f20000";
const BLUE = "#0000f0";
const MIDBLUE = "#6270ff";
const CYAN = "#22d2f0";
const GREEN = "#22d47a";
const RED_R = 2.05;
const FLOW_R = 2.0;

interface TextItem { t: string; x: number; y: number; font: string; align: CanvasTextAlign; rot?: boolean }
interface Series { points: Pt[]; color: string; radius: number }
interface PanelCfg {
  key: string;
  canvas: { left: number; top: number; width: number; height: number };
  area: { left: number; right: number; top: number; bottom: number };
  x: { min: number; max: number };
  y: { type: "linear" | "logarithmic"; min: number; max: number };
  series: Series[];
  gate: { x: number; y: number; color: string; width: number };
  frame: { color: string; width: number };
  flow: boolean;
  yMajor: number[]; yLabels: string[]; yMinor: number[];
  quad: string[]; quadPos: { lx: number; rx: number; ty: number; by: number };
  texts: TextItem[];
}

const classicRow1 = (key: string, cl: number, al: number, ar: number, series: Series[], quad: string[], qp: any, texts: TextItem[]): PanelCfg => ({
  key, canvas: { left: cl, top: 0, width: cl === 0 ? 352 : 357, height: 305 },
  area: { left: al, right: ar, top: 33.5, bottom: 262.5 },
  x: { min: key === "a" ? 1 : 0.977, max: 10380 },
  y: { type: "linear", min: -14, max: 1032 },
  series, gate: { x: 38, y: 356, color: "#2a2a2a", width: 1.6 }, frame: { color: "#333", width: 1.2 }, flow: false,
  yMajor: fscMajorTicks, yLabels: fscMajorLabels, yMinor: fscMinorTicks,
  quad, quadPos: qp, texts,
});

const panels: PanelCfg[] = [
  classicRow1("a", 0, 48.5, 331.5, [{ points: aPoints, color: RED, radius: RED_R }, { points: aCore, color: RED, radius: RED_R }], quadA, { lx: 55, rx: 322.7, ty: 55, by: 257.3 }, [
    { t: "(a)", x: 7, y: 18.5, font: `bold 17px ${SANS}`, align: "left" },
    { t: "CART ctr.001", x: 178, y: 29, font: `12px ${SANS}`, align: "center" },
    { t: "APC", x: 188.5, y: 299.5, font: `12px ${SANS}`, align: "center" },
    { t: "FSC-Height", x: 17, y: 148, font: `12px ${SANS}`, align: "center", rot: true },
  ]),
  classicRow1("b", 352, 417.5, 699.5, [{ points: bPoints, color: RED, radius: RED_R }, { points: bCore, color: RED, radius: RED_R }], quadB, { lx: 421.7, rx: 687.5, ty: 55, by: 257.3 }, [
    { t: "(b)", x: 368, y: 18.5, font: `bold 17px ${SANS}`, align: "left" },
    { t: "CART PD-L1.002", x: 545.7, y: 29, font: `12px ${SANS}`, align: "center" },
    { t: "APC", x: 558.3, y: 299.5, font: `12px ${SANS}`, align: "center" },
    { t: "FSC-Height", x: 386.7, y: 148, font: `12px ${SANS}`, align: "center", rot: true },
  ]),
  {
    key: "c", canvas: { left: 0, top: 296, width: 352, height: 340 },
    area: { left: 51.5, right: 331.5, top: 333.5, bottom: 587.5 },
    x: { min: 1, max: 10380 }, y: { type: "logarithmic", min: 0.98, max: 10300 },
    series: [{ points: cPoints, color: RED, radius: RED_R }, { points: cCore, color: RED, radius: RED_R }],
    gate: { x: 51, y: 100, color: "#2a2a2a", width: 1.6 }, frame: { color: "#333", width: 1.2 }, flow: false,
    yMajor: logMajorTicks, yLabels: logExponents, yMinor: logMinorTicks,
    quad: quadC, quadPos: { lx: 55, rx: 321.7, ty: 351.7, by: 584.5 },
    texts: [
      { t: "(c)", x: 7, y: 316.5, font: `bold 17px ${SANS}`, align: "left" },
      { t: "L1 Ctr.012", x: 178.3, y: 328, font: `12px ${SANS}`, align: "center" },
      { t: "L1 APC", x: 187, y: 627, font: `12px ${SANS}`, align: "center" },
      { t: "CD3 FITC", x: 17.3, y: 461, font: `12px ${SANS}`, align: "center", rot: true },
    ],
  },
  {
    key: "d", canvas: { left: 352, top: 296, width: 357, height: 340 },
    area: { left: 420.5, right: 699.5, top: 333.5, bottom: 587.5 },
    x: { min: 0.977, max: 10400 }, y: { type: "logarithmic", min: 0.98, max: 10300 },
    series: [{ points: dPoints, color: RED, radius: RED_R }, { points: dCore, color: RED, radius: RED_R }],
    gate: { x: 52, y: 100, color: "#2a2a2a", width: 1.6 }, frame: { color: "#333", width: 1.2 }, flow: false,
    yMajor: logMajorTicks, yLabels: logExponents, yMinor: logMinorTicks,
    quad: quadD, quadPos: { lx: 423.3, rx: 683, ty: 351.7, by: 584.5 },
    texts: [
      { t: "(d)", x: 368, y: 316.5, font: `bold 17px ${SANS}`, align: "left" },
      { t: "L1 .013", x: 546.7, y: 328, font: `12px ${SANS}`, align: "center" },
      { t: "L1 APC", x: 556, y: 627, font: `12px ${SANS}`, align: "center" },
      { t: "CD3 FITC", x: 387.3, y: 461, font: `12px ${SANS}`, align: "center", rot: true },
    ],
  },
  {
    key: "e", canvas: { left: 0, top: 618, width: 352, height: 350 },
    area: { left: 49.5, right: 330.5, top: 647.5, bottom: 929.5 },
    x: { min: 1, max: 10900 }, y: { type: "linear", min: -11, max: 1028 },
    series: [
      { points: eGreen, color: GREEN, radius: FLOW_R },
      { points: eCyan, color: CYAN, radius: FLOW_R },
      { points: eMid, color: MIDBLUE, radius: FLOW_R },
      { points: eBlue, color: BLUE, radius: FLOW_R },
      { points: eBlue2, color: BLUE, radius: FLOW_R },
    ],
    gate: { x: 52, y: 226, color: "#000", width: 2.6 }, frame: { color: "#111", width: 1.2 }, flow: true,
    yMajor: fscMajorTicks, yLabels: flowMajorLabels, yMinor: flowMinorTicks,
    quad: quadE, quadPos: { lx: 55, rx: 319.5, ty: 664.3, by: 926 },
    texts: [
      { t: "(e)", x: 7, y: 636, font: `bold 17px ${SANS}`, align: "left" },
      { t: "FL4-H :: APC", x: 177, y: 966.5, font: `10.5px ${SANS}`, align: "center" },
      { t: "FSC-H :: FSC-Height", x: 11.7, y: 790, font: `10.5px ${SANS}`, align: "center", rot: true },
    ],
  },
  {
    key: "f", canvas: { left: 352, top: 618, width: 357, height: 350 },
    area: { left: 417.5, right: 700.5, top: 648.5, bottom: 931.5 },
    x: { min: 0.958, max: 10580 }, y: { type: "linear", min: -6, max: 1020 },
    series: [
      { points: fGreen, color: GREEN, radius: FLOW_R },
      { points: fCyan, color: CYAN, radius: FLOW_R },
      { points: fMid, color: MIDBLUE, radius: FLOW_R },
      { points: fBlue, color: BLUE, radius: FLOW_R },
      { points: fBlue2, color: BLUE, radius: FLOW_R },
    ],
    gate: { x: 52, y: 228, color: "#000", width: 2.6 }, frame: { color: "#111", width: 1.2 }, flow: true,
    yMajor: fscMajorTicks, yLabels: flowMajorLabels, yMinor: flowMinorTicks,
    quad: quadF, quadPos: { lx: 422.7, rx: 690, ty: 665, by: 926.7 },
    texts: [
      { t: "(f)", x: 368, y: 636, font: `bold 17px ${SANS}`, align: "left" },
      { t: "FL4-H :: APC", x: 547, y: 966.5, font: `10.5px ${SANS}`, align: "center" },
      { t: "FSC-H :: FSC-Height", x: 375, y: 790, font: `10.5px ${SANS}`, align: "center", rot: true },
    ],
  },
];

function supLabel(ctx: CanvasRenderingContext2D, exp: string, x: number, y: number, baseFont: string, expFont: string, raise: number, align: "center" | "left" | "right") {
  ctx.font = baseFont;
  const wb = ctx.measureText("10").width;
  ctx.font = expFont;
  const we = ctx.measureText(exp).width;
  const total = wb + we + 0.5;
  const sx = align === "center" ? x - total / 2 : align === "left" ? x : x - total;
  ctx.textAlign = "left";
  ctx.textBaseline = "alphabetic";
  ctx.font = baseFont;
  ctx.fillText("10", sx, y);
  ctx.font = expFont;
  ctx.fillText(exp, sx + wb + 0.5, y - raise);
}

function decorPlugin(p: PanelCfg) {
  return {
    id: "decor_" + p.key,
    afterDatasetsDraw(chart: any) {
      const ctx: CanvasRenderingContext2D = chart.ctx;
      const { left, right, top, bottom } = chart.chartArea;
      const xs = chart.scales.x;
      const ys = chart.scales.y;
      const ox = p.canvas.left;
      const oy = p.canvas.top;
      const snap = (v: number, w: number) => (Math.round(w) % 2 === 1 ? Math.floor(v) + 0.5 : Math.round(v));
      ctx.save();
      ctx.strokeStyle = p.gate.color;
      ctx.lineWidth = p.gate.width;
      const gx = snap(xs.getPixelForValue(p.gate.x), p.gate.width);
      const gy = snap(ys.getPixelForValue(p.gate.y), p.gate.width);
      ctx.beginPath();
      ctx.moveTo(gx, top); ctx.lineTo(gx, bottom);
      ctx.moveTo(left, gy); ctx.lineTo(right, gy);
      ctx.stroke();
      ctx.strokeStyle = p.frame.color;
      ctx.lineWidth = p.frame.width;
      ctx.strokeRect(left, top, right - left, bottom - top);

      ctx.strokeStyle = p.flow ? "#111" : "#333";
      const xTick = (vals: number[], len: number, w: number) => {
        ctx.lineWidth = w;
        ctx.beginPath();
        for (const v of vals) {
          const px = xs.getPixelForValue(v);
          if (px < left - 1 || px > right + 1) continue;
          const sx = snap(px, w);
          ctx.moveTo(sx, bottom); ctx.lineTo(sx, bottom + len);
        }
        ctx.stroke();
      };
      const yTick = (vals: number[], len: number, w: number) => {
        ctx.lineWidth = w;
        ctx.beginPath();
        for (const v of vals) {
          const py = ys.getPixelForValue(v);
          if (py < top - 1 || py > bottom + 1) continue;
          const sy = snap(py, w);
          ctx.moveTo(left, sy); ctx.lineTo(left - len, sy);
        }
        ctx.stroke();
      };
      if (p.flow) {
        xTick(logMajorTicks, 8, 2);
        xTick(logMinorTicks, 4, 1);
        yTick(p.yMajor, 9, 2);
        yTick(p.yMinor, 5, 1);
      } else {
        xTick(logMajorTicks, 6, 1);
        xTick(logMinorTicks, 4, 1);
        yTick(p.yMajor, 6, 1);
        yTick(p.yMinor, 3.5, 1);
      }

      ctx.fillStyle = "#111";
      if (p.flow) {
        logMajorTicks.forEach((v, i) => {
          const px = xs.getPixelForValue(v);
          const bf = `9.5px ${SANS}`;
          const ef = `6.5px ${SANS}`;
          if (i === logMajorTicks.length - 1) supLabel(ctx, logExponents[i], right - 2, bottom + 22, bf, ef, 7.5, "right");
          else supLabel(ctx, logExponents[i], px + (i === 0 ? 5.5 : 1.5), bottom + 22, bf, ef, 7.5, "left");
        });
        ctx.font = `8.5px ${SANS}`;
        ctx.textAlign = "right";
        ctx.textBaseline = "middle";
        p.yMajor.forEach((v, i) => {
          const py = ys.getPixelForValue(v);
          ctx.fillText(p.yLabels[i], left - 13, py);
        });
      } else {
        const bf = `12.5px ${SANS}`;
        const ef = `9px ${SANS}`;
        logMajorTicks.forEach((v, i) => {
          const px = xs.getPixelForValue(v);
          supLabel(ctx, logExponents[i], px, bottom + 18, bf, ef, 7, "center");
        });
        p.yMajor.forEach((v, i) => {
          const py = ys.getPixelForValue(v);
          ctx.save();
          ctx.translate(left - 10.5, py);
          ctx.rotate(-Math.PI / 2);
          if (p.y.type === "logarithmic") {
            supLabel(ctx, p.yLabels[i], 0, 0, bf, ef, 6.5, "center");
          } else {
            ctx.font = `12px ${SANS}`;
            ctx.textAlign = "center";
            ctx.textBaseline = "alphabetic";
            ctx.fillText(p.yLabels[i], 0, 0);
          }
          ctx.restore();
        });
      }

      ctx.fillStyle = "#111";
      ctx.font = `16px ${SERIF}`;
      ctx.textBaseline = "alphabetic";
      const qp = p.quadPos;
      const qItems: [string, number, number, CanvasTextAlign][] = [
        [p.quad[0], qp.lx, qp.ty, "left"],
        [p.quad[1], qp.rx, qp.ty, "right"],
        [p.quad[2], qp.lx, qp.by, "left"],
        [p.quad[3], qp.rx, qp.by, "right"],
      ];
      for (const [t, x, y, al] of qItems) {
        ctx.save();
        ctx.translate(x - ox, y - oy);
        ctx.scale(0.82, 1);
        ctx.textAlign = al;
        ctx.fillText(t, 0, 0);
        ctx.restore();
      }

      ctx.fillStyle = "#111";
      for (const it of p.texts) {
        ctx.save();
        ctx.font = it.font;
        ctx.textAlign = it.align;
        ctx.textBaseline = "alphabetic";
        ctx.translate(it.x - ox, it.y - oy);
        if (it.rot) ctx.rotate(-Math.PI / 2);
        ctx.fillText(it.t, 0, 0);
        ctx.restore();
      }
      ctx.restore();
    },
  };
}

function FlowPanel({ cfg }: { cfg: PanelCfg }) {
  const ref = useRef<HTMLCanvasElement>(null);
  useEffect(() => {
    const canvas = ref.current;
    if (!canvas) return;
    const c = cfg.canvas;
    const a = cfg.area;
    const chart = new Chart(canvas, {
      type: "scatter",
      data: {
        datasets: cfg.series.map((s) => ({
          data: s.points.map(([x, y]) => ({ x, y })),
          backgroundColor: s.color,
          borderWidth: 0,
          pointRadius: s.radius,
          pointHoverRadius: s.radius,
          pointStyle: "rect",
        })),
      },
      options: {
        animation: false,
        responsive: false,
        maintainAspectRatio: false,
        devicePixelRatio: 1,
        events: [],
        layout: {
          padding: {
            left: a.left - c.left,
            top: a.top - c.top,
            right: c.left + c.width - a.right,
            bottom: c.top + c.height - a.bottom,
          },
        },
        plugins: { legend: { display: false }, tooltip: { enabled: false }, title: { display: false } },
        scales: {
          x: { type: "logarithmic", min: cfg.x.min, max: cfg.x.max, display: false },
          y: { type: cfg.y.type, min: cfg.y.min, max: cfg.y.max, display: false },
        },
      } as any,
      plugins: [decorPlugin(cfg)],
    });
    return () => chart.destroy();
  }, [cfg]);
  const c = cfg.canvas;
  return (
    <canvas
      ref={ref}
      width={c.width}
      height={c.height}
      style={{ position: "absolute", left: c.left, top: c.top, width: c.width, height: c.height }}
    />
  );
}

export default function App() {
  return (
    <div style={{ position: "absolute", left: 0, top: 0, width: 709, height: 968, background: "#fff", overflow: "hidden" }}>
      {panels.map((p) => (
        <FlowPanel key={p.key} cfg={p} />
      ))}
    </div>
  );
}
